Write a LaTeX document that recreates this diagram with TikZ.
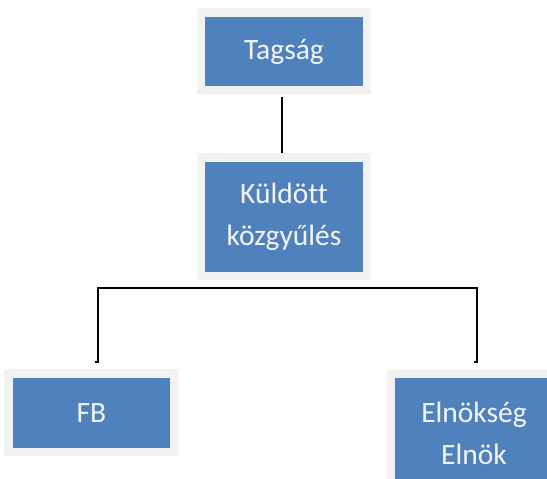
\documentclass[tikz,border=0pt]{standalone}
\usepackage{fontspec}
\setmainfont[Ligatures=NoCommon]{Carlito}
\definecolor{boxblue}{HTML}{4F81BD}
\definecolor{boxframe}{HTML}{F2F2F2}
\definecolor{boxtext}{HTML}{F4F4F4}
\begin{document}
\begin{tikzpicture}[x=1pt,y=1pt,
  orgbox/.style={draw=boxframe, fill=boxblue, line width=8.5pt, text=boxtext,
    minimum width=166pt, inner sep=0pt, align=center,
    font=\fontsize{29.5}{42}\selectfont},
  link/.style={draw=black, line width=1.4pt}]
\useasboundingbox (0,0) rectangle (547,479);
\node[orgbox, minimum height=77.5pt] (t) at (284,427.5) {Tagság};
\node[orgbox, minimum height=118.5pt] (k) at (284,262) {Küldött\\közgyűlés};
\node[orgbox, minimum height=78.5pt] (fb) at (91.5,66) {FB};
\node[orgbox, minimum height=118.5pt] (e) at (474,45.5) {Elnökség\\Elnök};
\draw[link] ([xshift=-2pt,yshift=-3pt]t.south) -- ([xshift=-2pt]k.north);
\coordinate (hl) at (98,191);
\coordinate (hr) at (477,191);
\coordinate (fbend) at (98,117);
\coordinate (eend) at (477,117);
\draw[link] ([xshift=-3pt]fbend) -- (fbend) -- (hl) -- (hr) -- (eend) -- ([xshift=-3pt]eend);
\end{tikzpicture}
\end{document}
